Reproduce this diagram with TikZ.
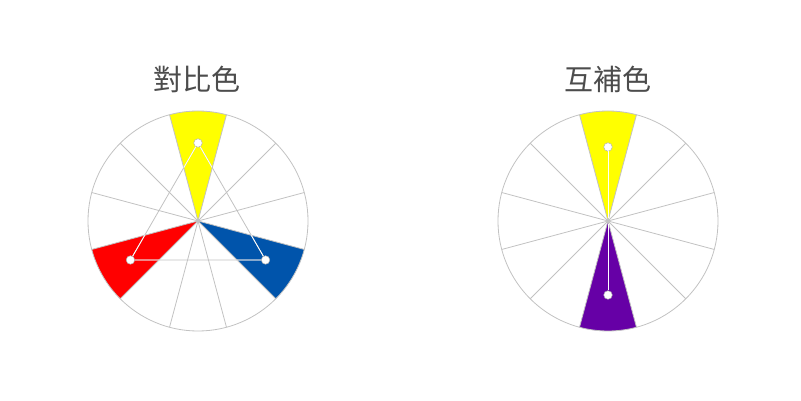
\documentclass[tikz,border=0pt]{standalone}
\usepackage{fontspec}
\newfontfamily\cjk{Noto Sans CJK TC}
\usepackage{tikz}
\usetikzlibrary{calc}
\definecolor{wheel-gray}{rgb}{0.76, 0.76, 0.76}
\definecolor{title-gray}{rgb}{0.3, 0.3, 0.3}
\definecolor{pure-yellow}{rgb}{1.0, 1.0, 0.0}
\definecolor{pure-red}{rgb}{1.0, 0.0, 0.0}
\definecolor{cobalt}{rgb}{0.0, 0.33, 0.67}
\definecolor{violet-purple}{rgb}{0.4, 0.0, 0.65}

\tikzset{
	spoke/.style={wheel-gray,line width=0.8pt},
	dot/.style={circle,fill=white,draw=white!70!black,line width=0.5pt,inner sep=0pt,minimum size=8.5pt},
	title/.style={font=\cjk\fontsize{29}{33}\selectfont,text=title-gray}
}

\begin{document}
\begin{tikzpicture}[x=1pt,y=1pt]
	\useasboundingbox (0,0) rectangle (801,401);

	% Titles
	\node[title] (contrast) at (197,322) {對比色};
	\node[title] (complement) at (608,322) {互補色};

	% Left wheel: sectors
	\coordinate (lc) at (198,180);
	\fill[pure-yellow] (lc) -- ++(75:110) arc (75:105:110) -- cycle;
	\fill[pure-red] (lc) -- ++(195:110) arc (195:225:110) -- cycle;
	\fill[cobalt] (lc) -- ++(315:110) arc (315:345:110) -- cycle;
	\foreach \a in {15,45,...,345}
		\draw[spoke] (lc) -- ++(\a:110);
	\draw[spoke] (lc) circle (110);

	% Left wheel: triad
	\path (lc) ++(90:78) node[dot] (ly) {};
	\path (lc) ++(210:78) node[dot] (lr) {};
	\path (lc) ++(330:78) node[dot] (lb) {};
	\draw[spoke] (ly) -- (lr) -- (lb) -- (ly);
	\begin{scope}
		\clip (lc) -- ++(75:110) arc (75:105:110) -- cycle
			(lc) -- ++(195:110) arc (195:225:110) -- cycle
			(lc) -- ++(315:110) arc (315:345:110) -- cycle;
		\draw[white,line width=0.8pt] (ly) -- (lr) -- (lb) -- (ly);
	\end{scope}

	% Right wheel: sectors
	\coordinate (rc) at (608,180);
	\fill[pure-yellow] (rc) -- ++(75:110) arc (75:105:110) -- cycle;
	\fill[violet-purple] (rc) -- ++(255:110) arc (255:285:110) -- cycle;
	\foreach \a in {15,45,...,345}
		\draw[spoke] (rc) -- ++(\a:110);
	\draw[spoke] (rc) circle (110);

	% Right wheel: pair
	\path (rc) ++(90:74) node[dot] (ry) {};
	\path (rc) ++(270:74) node[dot] (rp) {};
	\begin{scope}
		\clip (rc) -- ++(75:110) arc (75:105:110) -- cycle
			(rc) -- ++(255:110) arc (255:285:110) -- cycle;
		\draw[white,line width=0.8pt] (ry) -- (rp);
	\end{scope}
\end{tikzpicture}
\end{document}
